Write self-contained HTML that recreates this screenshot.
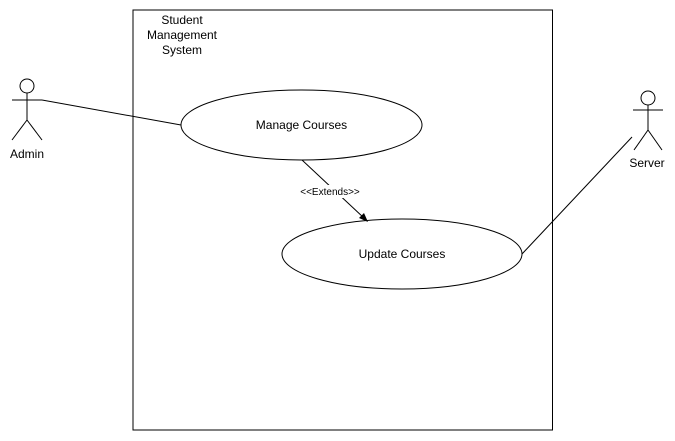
<!DOCTYPE html>
<html><head><meta charset="utf-8"><style>
html,body{margin:0;padding:0;background:#fff;}
svg{display:block;font-family:"Liberation Sans",Helvetica,Arial,sans-serif;}
</style></head><body>
<svg width="675" height="441" viewBox="0 0 675 441" xmlns="http://www.w3.org/2000/svg">
<rect x="133" y="10" width="419.5" height="420" fill="#fff" stroke="#000" stroke-width="1"/>
<g font-size="12" text-anchor="middle" fill="#000">
<text x="182" y="24">Student</text>
<text x="182" y="39">Management</text>
<text x="182" y="54">System</text>
</g>
<g stroke="#000" fill="none" stroke-width="1">
<circle cx="27" cy="86" r="7" fill="#fff"/>
<line x1="27" y1="93" x2="27" y2="120"/>
<line x1="12" y1="100" x2="42" y2="100"/>
<line x1="27" y1="120" x2="12" y2="140"/>
<line x1="27" y1="120" x2="42" y2="140"/>
<line x1="42" y1="100" x2="181" y2="125"/>
<circle cx="648" cy="98" r="7" fill="#fff"/>
<line x1="648" y1="105" x2="648" y2="130"/>
<line x1="633" y1="110" x2="663" y2="110"/>
<line x1="648" y1="130" x2="634" y2="150"/>
<line x1="648" y1="130" x2="662" y2="150"/>
<line x1="522" y1="254" x2="632" y2="137"/>
<ellipse cx="301.5" cy="125" rx="120.5" ry="35" fill="#fff"/>
<ellipse cx="402" cy="254" rx="120" ry="35" fill="#fff"/>
<line x1="302" y1="160" x2="364" y2="218"/>
</g>
<polygon points="368,222 359,218 364,213" fill="#000"/>
<rect x="301" y="185" width="58" height="13" fill="#fff"/>
<g font-size="12" text-anchor="middle" fill="#000">
<text x="301.5" y="129">Manage Courses</text>
<text x="402" y="258">Update Courses</text>
<text x="27" y="158">Admin</text>
<text x="647" y="167">Server</text>
<text x="330" y="195" font-size="10">&lt;&lt;Extends&gt;&gt;</text>
</g>
</svg>
</body></html>
